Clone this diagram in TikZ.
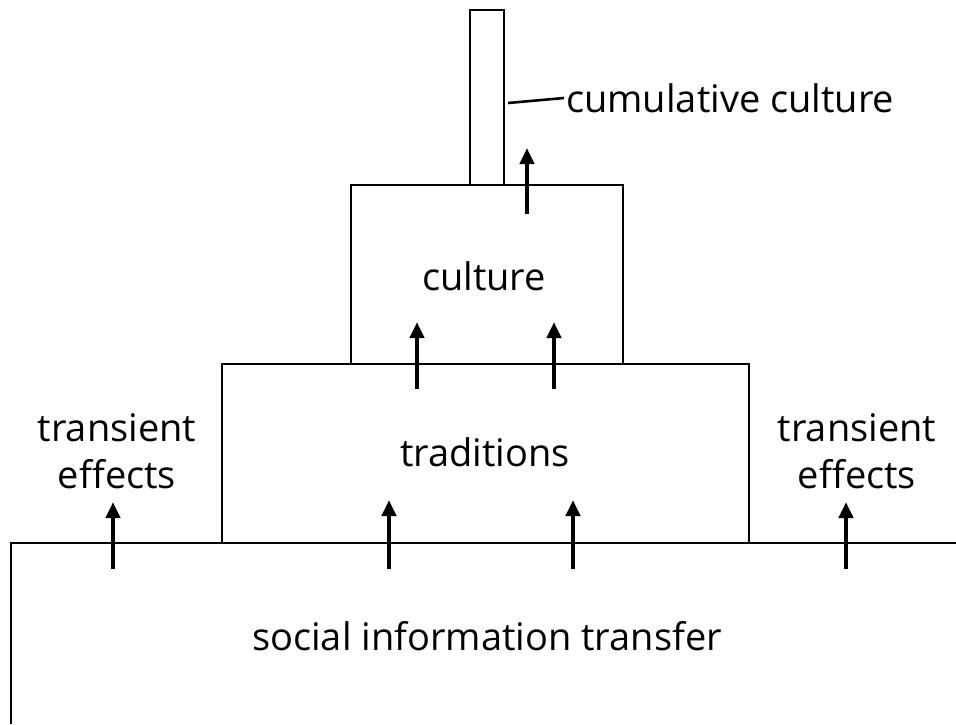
\documentclass[tikz,border=0pt]{standalone}
\usepackage{fontspec}
\setmainfont{Open Sans}
\usetikzlibrary{arrows.meta}
\begin{document}
\begin{tikzpicture}[x=1pt,y=-1pt,
  boxline/.style={line width=2.6pt},
  uparrow/.style={line width=4pt,-{Triangle[length=16pt,width=14pt]}},
  lbl/.style={font=\fontsize{38}{47}\selectfont,align=center,inner sep=0pt}]
\useasboundingbox (0,0) rectangle (956,724);
% bottom open box
\draw[boxline] (11,724) -- (11,543) -- (956,543);
% traditions box
\draw[boxline] (222,543) -- (222,364) -- (749,364) -- (749,543);
% culture box
\draw[boxline] (351,364) -- (351,185) -- (623,185) -- (623,364);
% column
\draw[boxline] (470,185) -- (470,10) -- (504,10) -- (504,185);
\draw[line width=2.6pt] (508,103) -- (564,98);
% arrows
\foreach \x/\a/\b in {113/569/502, 389/569/500, 573/569/500, 846/569/502, 417/389/322, 554/389/322, 527/214/148}
  \draw[uparrow] (\x,\a) -- (\x,\b);
% labels
\node[lbl,anchor=west] (cc) at (566,98) {cumulative culture};
\node[lbl] (cul) at (484,276) {culture};
\node[lbl] (trad) at (485,452) {traditions};
\node[lbl] (tl) at (117,451) {transient\\effects};
\node[lbl] (tr) at (857,451) {transient\\effects};
\node[lbl] (sit) at (487,636) {social information transfer};
\end{tikzpicture}
\end{document}
